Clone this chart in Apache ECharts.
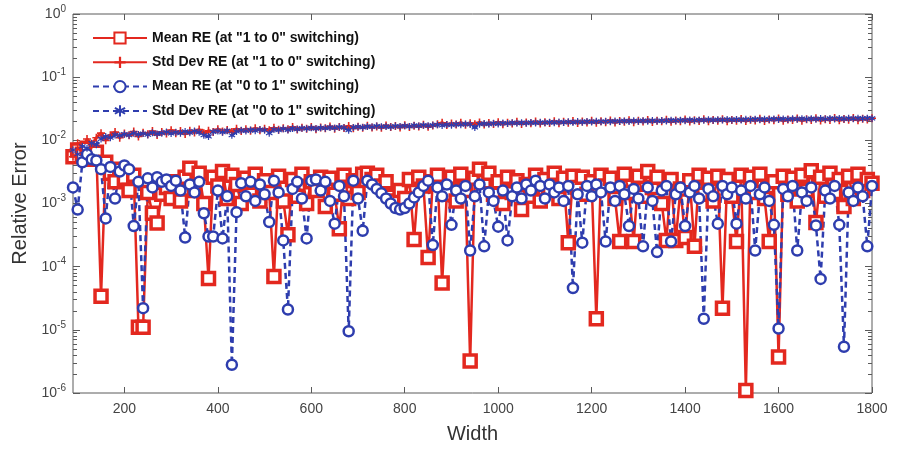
<!DOCTYPE html>
<html>
<head>
<meta charset="utf-8">
<script src="https://cdn.jsdelivr.net/npm/echarts@6/dist/echarts.min.js"></script>
<style>
  html, body { margin: 0; padding: 0; background: #ffffff; }
  #chart { width: 897px; height: 452px; }
</style>
</head>
<body>
<div id="chart"></div>
<script>
// Transistor width sweep (x) and relative errors (y)
const widths = [
  90, 100, 110, 120, 130, 140, 150, 160, 170, 180,
  190, 200, 210, 220, 230, 240, 250, 260, 270, 280,
  290, 300, 310, 320, 330, 340, 350, 360, 370, 380,
  390, 400, 410, 420, 430, 440, 450, 460, 470, 480,
  490, 500, 510, 520, 530, 540, 550, 560, 570, 580,
  590, 600, 610, 620, 630, 640, 650, 660, 670, 680,
  690, 700, 710, 720, 730, 740, 750, 760, 770, 780,
  790, 800, 810, 820, 830, 840, 850, 860, 870, 880,
  890, 900, 910, 920, 930, 940, 950, 960, 970, 980,
  990, 1000, 1010, 1020, 1030, 1040, 1050, 1060, 1070, 1080,
  1090, 1100, 1110, 1120, 1130, 1140, 1150, 1160, 1170, 1180,
  1190, 1200, 1210, 1220, 1230, 1240, 1250, 1260, 1270, 1280,
  1290, 1300, 1310, 1320, 1330, 1340, 1350, 1360, 1370, 1380,
  1390, 1400, 1410, 1420, 1430, 1440, 1450, 1460, 1470, 1480,
  1490, 1500, 1510, 1520, 1530, 1540, 1550, 1560, 1570, 1580,
  1590, 1600, 1610, 1620, 1630, 1640, 1650, 1660, 1670, 1680,
  1690, 1700, 1710, 1720, 1730, 1740, 1750, 1760, 1770, 1780,
  1790, 1800
];

// Mean RE, "1 to 0" switching
const meanRE10 = [
  5.5e-3, 7e-3, 6e-3, 7.5e-3, 5e-3, 6.5e-3, 3.4e-5, 4.5e-3, 3e-3, 2.2e-3,
  3.5e-3, 2.5e-3, 1.6e-3, 2.8e-3, 1.1e-5, 1.1e-5, 1.5e-3, 7e-4, 4.9e-4, 1.4e-3,
  1.8e-3, 1.2e-3, 2.2e-3, 1.1e-3, 2.6e-3, 3.6e-3, 1.6e-3, 3e-3, 1e-3, 6.5e-5,
  2.6e-3, 1.9e-3, 3.2e-3, 1.2e-3, 2.8e-3, 2e-3, 1e-3, 2.5e-3, 1.4e-3, 2.9e-3,
  1.1e-3, 2.3e-3, 1.5e-3, 7e-5, 2.7e-3, 1.1e-3, 3.2e-4, 2.4e-3, 1.3e-3, 2.9e-3,
  1e-3, 2.2e-3, 1.6e-3, 2.6e-3, 9e-4, 2.5e-3, 1.4e-3, 4e-4, 2.8e-3, 1.2e-3,
  2.3e-3, 1.5e-3, 2.9e-3, 3e-3, 2.4e-3, 2.8e-3, 1.9e-3, 2.2e-3, 1.3e-3, 1.1e-3,
  1.6e-3, 1.2e-3, 2.4e-3, 2.7e-4, 2.6e-3, 1.9e-3, 1.4e-4, 2.2e-3, 2.8e-3, 5.5e-5,
  1.4e-3, 2.6e-3, 1.1e-3, 2.9e-3, 1.6e-3, 3.2e-6, 2.5e-3, 3.5e-3, 2.2e-3, 3e-3,
  1.4e-3, 2.2e-3, 1e-3, 2.6e-3, 1.5e-3, 2.3e-3, 8e-4, 2e-3, 1.3e-3, 2.8e-3,
  1.1e-3, 2.4e-3, 1.6e-3, 3e-3, 1.2e-3, 2.5e-3, 2.4e-4, 2.7e-3, 1.8e-3, 2.6e-3,
  1.4e-3, 2.2e-3, 1.5e-5, 2.8e-3, 1.9e-3, 2.5e-3, 1.2e-3, 2.5e-4, 2.9e-3, 1.5e-3,
  2.5e-4, 2.7e-3, 1.3e-3, 3.2e-3, 1.8e-3, 2.6e-3, 1e-3, 2.6e-4, 2.4e-3, 2.6e-4,
  1.7e-3, 2.9e-4, 2.3e-3, 2.1e-4, 2.8e-3, 1.4e-3, 2.5e-3, 1.1e-3, 2.7e-3, 2.2e-5,
  2.4e-3, 1.3e-3, 2.5e-4, 2.8e-3, 1.1e-6, 2.6e-3, 1.5e-3, 2.9e-3, 1.2e-3, 2.5e-4,
  2.2e-3, 3.7e-6, 2.7e-3, 1.4e-3, 2.5e-3, 1.1e-3, 2.8e-3, 1.6e-3, 3.3e-3, 5e-4,
  2.6e-3, 1.3e-3, 3e-3, 1.5e-3, 2.4e-3, 9e-4, 2.7e-3, 1.2e-3, 2.9e-3, 1.6e-3,
  2.4e-3, 2.1e-3
];

// Std Dev RE, "1 to 0" switching
const stdRE10 = [
  5.5e-3, 9e-3, 7e-3, 1.05e-2, 8.5e-3, 1.1e-2, 1.3e-2, 1.0e-2, 1.2e-2, 1.35e-2,
  1.1e-2, 1.28e-2, 1.2e-2, 1.38e-2, 1.15e-2, 1.32e-2, 1.25e-2, 1.4e-2, 1.22e-2, 1.36e-2,
  1.28e-2, 1.45e-2, 1.3e-2, 1.4e-2, 1.26e-2, 1.42e-2, 1.33e-2, 1.48e-2, 1.3e-2, 1.42e-2,
  1.36e-2, 1.5e-2, 1.38e-2, 1.46e-2, 1.35e-2, 1.52e-2, 1.4e-2, 1.5e-2, 1.42e-2, 1.55e-2,
  1.45e-2, 1.52e-2, 1.44e-2, 1.58e-2, 1.47e-2, 1.55e-2, 1.5e-2, 1.62e-2, 1.48e-2, 1.58e-2,
  1.52e-2, 1.63e-2, 1.5e-2, 1.6e-2, 1.55e-2, 1.66e-2, 1.53e-2, 1.62e-2, 1.57e-2, 1.68e-2,
  1.55e-2, 1.64e-2, 1.58e-2, 1.7e-2, 1.6e-2, 1.66e-2, 1.58e-2, 1.72e-2, 1.62e-2, 1.68e-2,
  1.6e-2, 1.74e-2, 1.63e-2, 1.7e-2, 1.65e-2, 1.76e-2, 1.64e-2, 1.72e-2, 1.8e-2, 1.9e-2,
  1.75e-2, 1.85e-2, 1.78e-2, 1.9e-2, 1.76e-2, 1.86e-2, 1.8e-2, 1.92e-2, 1.78e-2, 1.88e-2,
  1.82e-2, 1.94e-2, 1.8e-2, 1.9e-2, 1.84e-2, 1.96e-2, 1.82e-2, 1.92e-2, 1.86e-2, 1.98e-2,
  1.84e-2, 1.94e-2, 1.88e-2, 2.0e-2, 1.86e-2, 1.96e-2, 1.9e-2, 2.02e-2, 1.88e-2, 1.98e-2,
  1.92e-2, 2.04e-2, 1.9e-2, 2.0e-2, 1.94e-2, 2.06e-2, 1.92e-2, 2.02e-2, 1.96e-2, 2.08e-2,
  1.94e-2, 2.04e-2, 1.98e-2, 2.1e-2, 1.95e-2, 2.05e-2, 2.0e-2, 2.12e-2, 1.96e-2, 2.06e-2,
  2.01e-2, 2.14e-2, 1.98e-2, 2.08e-2, 2.02e-2, 2.15e-2, 2.0e-2, 2.1e-2, 2.04e-2, 2.16e-2,
  2.0e-2, 2.1e-2, 2.05e-2, 2.18e-2, 2.02e-2, 2.12e-2, 2.06e-2, 2.2e-2, 2.03e-2, 2.14e-2,
  2.08e-2, 2.22e-2, 2.04e-2, 2.14e-2, 2.09e-2, 2.22e-2, 2.05e-2, 2.16e-2, 2.1e-2, 2.24e-2,
  2.06e-2, 2.16e-2, 2.1e-2, 2.25e-2, 2.07e-2, 2.18e-2, 2.12e-2, 2.26e-2, 2.08e-2, 2.2e-2,
  2.14e-2, 2.24e-2
];

// Mean RE, "0 to 1" switching
const meanRE01 = [
  1.8e-3, 8e-4, 4.5e-3, 6e-3, 5e-3, 4.8e-3, 3.5e-3, 5.8e-4, 3.8e-3, 1.2e-3,
  3.2e-3, 4e-3, 3.5e-3, 4.4e-4, 2.2e-3, 2.2e-5, 2.5e-3, 1.8e-3, 2.6e-3, 2.2e-3,
  2.4e-3, 1.9e-3, 2.3e-3, 1.6e-3, 2.9e-4, 2e-3, 1.5e-3, 2.2e-3, 7e-4, 3e-4,
  3e-4, 1.6e-3, 2.8e-4, 1.3e-3, 2.8e-6, 7.3e-4, 2.1e-3, 1.3e-3, 2.2e-3, 1.1e-3,
  2e-3, 1.4e-3, 5.1e-4, 2.3e-3, 1.5e-3, 2.6e-4, 2.1e-5, 1.7e-3, 2.2e-3, 1.2e-3,
  2.8e-4, 2.3e-3, 2.4e-3, 1.6e-3, 2.2e-3, 1.1e-3, 4.8e-4, 1.9e-3, 1.3e-3, 9.5e-6,
  2.3e-3, 1.2e-3, 3.7e-4, 2.3e-3, 2e-3, 1.7e-3, 1.45e-3, 1.2e-3, 1e-3, 8.5e-4,
  8e-4, 8.5e-4, 1e-3, 1.25e-3, 1.5e-3, 1.9e-3, 2.3e-3, 2.2e-4, 1.8e-3, 1.3e-3,
  2e-3, 4.6e-4, 1.6e-3, 1.2e-3, 1.9e-3, 1.8e-4, 1.3e-3, 2e-3, 2.1e-4, 1.5e-3,
  1.1e-3, 4.3e-4, 1.6e-3, 2.6e-4, 1.3e-3, 1.8e-3, 1.2e-3, 2e-3, 1.6e-3, 2.3e-3,
  1.9e-3, 1.2e-3, 2e-3, 1.5e-3, 1.8e-3, 1.1e-3, 1.9e-3, 4.6e-5, 1.4e-3, 2.4e-4,
  1.9e-3, 1.3e-3, 2e-3, 1.5e-3, 2.5e-4, 1.8e-3, 1.1e-3, 1.9e-3, 1.4e-3, 4.4e-4,
  1.7e-3, 1.2e-3, 2.1e-4, 1.8e-3, 1.1e-3, 1.7e-4, 1.6e-3, 1.9e-3, 2.5e-4, 1.4e-3,
  1.8e-3, 4.4e-4, 1.5e-3, 1.9e-3, 1.2e-3, 1.5e-5, 1.7e-3, 1.3e-3, 4.8e-4, 1.9e-3,
  1.4e-3, 1.8e-3, 4.8e-4, 1.6e-3, 1.2e-3, 1.9e-3, 1.8e-4, 1.4e-3, 1.8e-3, 1.1e-3,
  4.6e-4, 1.05e-5, 1.7e-3, 1.3e-3, 1.9e-3, 1.8e-4, 1.5e-3, 1.1e-3, 1.8e-3, 4.5e-4,
  6.4e-5, 1.6e-3, 1.2e-3, 1.9e-3, 4.6e-4, 5.4e-6, 1.5e-3, 1.1e-3, 1.8e-3, 1.3e-3,
  2.1e-4, 1.9e-3
];

// Std Dev RE, "0 to 1" switching
const stdRE01 = [
  7e-3, 6e-3, 8e-3, 7.5e-3, 9e-3, 8.5e-3, 1.05e-2, 1.15e-2, 1.1e-2, 1.22e-2,
  1.18e-2, 1.25e-2, 1.2e-2, 1.3e-2, 1.24e-2, 1.28e-2, 1.22e-2, 1.32e-2, 1.26e-2, 1.3e-2,
  1.35e-2, 1.28e-2, 1.34e-2, 1.3e-2, 1.38e-2, 1.32e-2, 1.4e-2, 1.34e-2, 1.2e-2, 1.15e-2,
  1.36e-2, 1.4e-2, 1.34e-2, 1.42e-2, 1.2e-2, 1.38e-2, 1.44e-2, 1.4e-2, 1.46e-2, 1.42e-2,
  1.48e-2, 1.44e-2, 1.3e-2, 1.48e-2, 1.45e-2, 1.52e-2, 1.46e-2, 1.54e-2, 1.5e-2, 1.56e-2,
  1.52e-2, 1.58e-2, 1.53e-2, 1.58e-2, 1.55e-2, 1.6e-2, 1.56e-2, 1.62e-2, 1.58e-2, 1.45e-2,
  1.6e-2, 1.64e-2, 1.6e-2, 1.66e-2, 1.62e-2, 1.68e-2, 1.64e-2, 1.66e-2, 1.62e-2, 1.68e-2,
  1.65e-2, 1.7e-2, 1.66e-2, 1.72e-2, 1.68e-2, 1.74e-2, 1.7e-2, 1.74e-2, 1.76e-2, 1.72e-2,
  1.78e-2, 1.74e-2, 1.8e-2, 1.76e-2, 1.82e-2, 1.78e-2, 1.6e-2, 1.8e-2, 1.84e-2, 1.8e-2,
  1.86e-2, 1.82e-2, 1.88e-2, 1.84e-2, 1.9e-2, 1.86e-2, 1.9e-2, 1.87e-2, 1.92e-2, 1.88e-2,
  1.93e-2, 1.89e-2, 1.94e-2, 1.9e-2, 1.95e-2, 1.92e-2, 1.96e-2, 1.92e-2, 1.98e-2, 1.94e-2,
  1.99e-2, 1.95e-2, 2.0e-2, 1.96e-2, 2.0e-2, 1.97e-2, 2.02e-2, 1.98e-2, 2.03e-2, 1.99e-2,
  2.04e-2, 2.0e-2, 2.05e-2, 2.01e-2, 2.06e-2, 2.02e-2, 2.06e-2, 2.03e-2, 2.08e-2, 2.04e-2,
  2.08e-2, 2.05e-2, 2.1e-2, 2.06e-2, 2.1e-2, 2.07e-2, 2.12e-2, 2.08e-2, 2.12e-2, 2.09e-2,
  2.14e-2, 2.1e-2, 2.14e-2, 2.1e-2, 2.15e-2, 2.11e-2, 2.16e-2, 2.12e-2, 2.16e-2, 2.13e-2,
  2.18e-2, 2.14e-2, 2.18e-2, 2.14e-2, 2.19e-2, 2.15e-2, 2.2e-2, 2.16e-2, 2.2e-2, 2.16e-2,
  2.21e-2, 2.17e-2, 2.22e-2, 2.18e-2, 2.22e-2, 2.18e-2, 2.23e-2, 2.19e-2, 2.24e-2, 2.2e-2,
  2.24e-2, 2.22e-2
];

const seriesNames = [
  'Mean RE (at "1 to 0" switching)',
  'Std Dev RE (at "1 to 0" switching)',
  'Mean RE (at "0 to 1" switching)',
  'Std Dev RE (at "0 to 1" switching)'
];

const xTickValues = [200, 400, 600, 800, 1000, 1200, 1400, 1600, 1800];
const yDecades = [1e-6, 1e-5, 1e-4, 1e-3, 1e-2, 1e-1, 1];
const xRange = [90, 1800];

// minor log ticks at 2..9 within each decade
const yMinorTicks = [];
for (let d = 0; d < yDecades.length - 1; d++) {
  for (let k = 2; k <= 9; k++) yMinorTicks.push(k * yDecades[d]);
}

const RED = '#e3281f';
const BLUE = '#2e3dae';
const AXIS = '#5a5a5a';
const FONT = '"Liberation Sans", Arial, sans-serif';

const pair = arr => widths.map((w, i) => [w, arr[i]]);

const plusPath = 'path://M4,0H6V4H10V6H6V10H4V6H0V4H4Z';
const starPath = 'path://M4.2,0H5.8V3.4L8.8,1.6L9.6,3L6.6,4.9L9.6,6.8L8.8,8.2L5.8,6.4V10H4.2V6.4L1.2,8.2L0.4,6.8L3.4,4.9L0.4,3L1.2,1.6L4.2,3.4Z';

function yAxisBase(extra) {
  return Object.assign({
    type: 'log',
    logBase: 10,
    min: 1e-6,
    max: 1,
    splitLine: { show: false },
    minorTick: { show: false },
    axisLine: { show: false }
  }, extra);
}

const chart = echarts.init(document.getElementById('chart'), null, { renderer: 'canvas' });

chart.setOption({
  animation: false,
  backgroundColor: '#ffffff',
  textStyle: { fontFamily: FONT },
  grid: { left: 73, right: 25, top: 14, bottom: 59, show: true, borderColor: AXIS, borderWidth: 1 },
  legend: {
    data: seriesNames,
    orient: 'vertical',
    left: 87,
    top: 26,
    itemWidth: 54,
    itemHeight: 14,
    itemGap: 10.3,
    textStyle: { fontFamily: FONT, fontSize: 14, fontWeight: 'bold', color: '#111' },
    backgroundColor: 'rgba(255,255,255,0)'
  },
  xAxis: [
    {
      type: 'value',
      min: xRange[0],
      max: xRange[1],
      position: 'bottom',
      name: 'Width',
      nameLocation: 'middle',
      nameGap: 31,
      nameTextStyle: { fontFamily: FONT, fontSize: 20, color: '#333' },
      splitLine: { show: false },
      axisLine: { show: false },
      axisTick: { show: true, inside: true, length: 6, customValues: xTickValues, lineStyle: { color: AXIS } },
      axisLabel: {
        customValues: xTickValues,
        formatter: v => String(v),
        fontFamily: FONT, fontSize: 14, color: '#444', margin: 9
      }
    },
    {
      type: 'value',
      min: xRange[0],
      max: xRange[1],
      position: 'top',
      splitLine: { show: false },
      axisLine: { show: false },
      axisTick: { show: true, inside: true, length: 6, customValues: xTickValues, lineStyle: { color: AXIS } },
      axisLabel: { show: false }
    }
  ],
  yAxis: [
    yAxisBase({
      position: 'left',
      name: 'Relative Error',
      nameLocation: 'middle',
      nameGap: 42,
      nameTextStyle: { fontFamily: FONT, fontSize: 20, color: '#333' },
      axisTick: { show: true, inside: true, length: 7, customValues: yDecades, lineStyle: { color: AXIS } },
      axisLabel: {
        customValues: yDecades,
        margin: 7,
        formatter: v => '{b|10}{e|' + Math.round(Math.log10(v)) + '}',
        rich: {
          b: { fontFamily: FONT, fontSize: 14, color: '#444' },
          e: { fontFamily: FONT, fontSize: 10, color: '#444', verticalAlign: 'bottom', padding: [0, 0, 10, 0] }
        }
      }
    }),
    yAxisBase({
      position: 'left',
      axisTick: { show: true, inside: true, length: 4, customValues: yMinorTicks, lineStyle: { color: AXIS } },
      axisLabel: { show: false }
    }),
    yAxisBase({
      position: 'right',
      axisTick: { show: true, inside: true, length: 7, customValues: yDecades, lineStyle: { color: AXIS } },
      axisLabel: { show: false }
    }),
    yAxisBase({
      position: 'right',
      axisTick: { show: true, inside: true, length: 4, customValues: yMinorTicks, lineStyle: { color: AXIS } },
      axisLabel: { show: false }
    })
  ],
  series: [
    {
      name: seriesNames[0],
      type: 'line',
      data: pair(meanRE10),
      clip: false,
      symbol: 'rect',
      symbolSize: 12,
      showAllSymbol: true,
      lineStyle: { color: RED, width: 2.5 },
      itemStyle: { color: '#ffffff', borderColor: RED, borderWidth: 3.5 }
    },
    {
      name: seriesNames[1],
      type: 'line',
      data: pair(stdRE10),
      clip: false,
      symbol: plusPath,
      symbolSize: 8,
      showAllSymbol: true,
      lineStyle: { color: RED, width: 3 },
      itemStyle: { color: RED, borderWidth: 0 }
    },
    {
      name: seriesNames[2],
      type: 'line',
      data: pair(meanRE01),
      clip: false,
      symbol: 'circle',
      symbolSize: 10,
      showAllSymbol: true,
      lineStyle: { color: BLUE, width: 2.5, type: [6, 4] },
      itemStyle: { color: '#ffffff', borderColor: BLUE, borderWidth: 2.5 }
    },
    {
      name: seriesNames[3],
      type: 'line',
      data: pair(stdRE01),
      clip: false,
      symbol: starPath,
      symbolSize: 7,
      showAllSymbol: true,
      lineStyle: { color: BLUE, width: 3, type: [6, 4] },
      itemStyle: { color: BLUE, borderWidth: 0 }
    }
  ]
});
</script>
</body>
</html>
